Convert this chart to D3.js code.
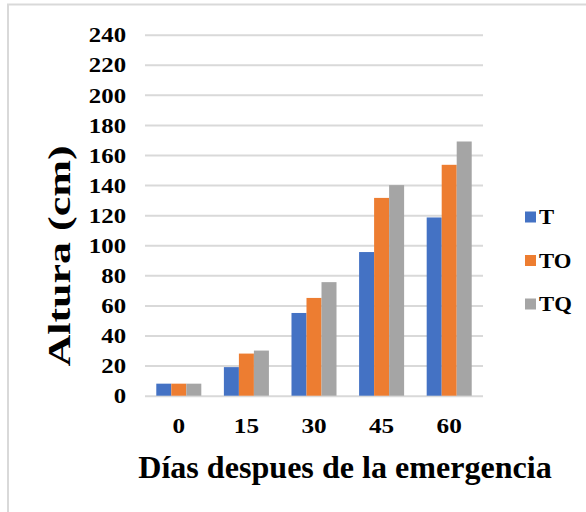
<!DOCTYPE html>
<html>
<head>
<meta charset="utf-8">
<script src="https://cdn.jsdelivr.net/npm/d3@7"></script>
<style>
  html, body { margin: 0; padding: 0; background: #fff; }
  svg { display: block; }
  text { font-family: "Liberation Serif", "Times New Roman", serif; font-weight: bold; fill: #000; }
</style>
</head>
<body>
<svg id="chart" width="586" height="512"></svg>
<script>
const categories = ["0", "15", "30", "45", "60"];
const seriesNames = ["T", "TO", "TQ"];
const seriesT  = [8, 19, 55, 95.5, 118.5];
const seriesTO = [8, 28, 65, 131.5, 153.5];
const seriesTQ = [8, 30, 75.5, 140, 169];
const yTicks = [0, 20, 40, 60, 80, 100, 120, 140, 160, 180, 200, 220, 240];
const colors = ["#4472C4", "#ED7D31", "#A5A5A5"];
const yTitle = "Altura (cm)";
const xTitle = "Días despues de la emergencia";

const series = [seriesT, seriesTO, seriesTQ];
const svg = d3.select("#chart");

function stretch(sel, factor) {
  sel.each(function () {
    const w = this.getComputedTextLength();
    d3.select(this).attr("textLength", w * factor).attr("lengthAdjust", "spacingAndGlyphs");
  });
}

// outer frame
svg.append("rect").attr("x", 8).attr("y", 4.5).attr("width", 600).attr("height", 600)
  .attr("fill", "none").attr("stroke", "#d9d9d9").attr("stroke-width", 2);

const plot = { left: 145, right: 483, top: 34.7, bottom: 395.7 };

const y = d3.scaleLinear().domain([0, 240]).range([plot.bottom, plot.top]);
const x0 = d3.scaleBand().domain(categories).range([plot.left, plot.right])
  .paddingInner(0.334).paddingOuter(0.167);
const x1 = d3.scaleBand().domain(seriesNames).range([0, x0.bandwidth()]);

// gridlines
const yAxis = d3.axisLeft(y).tickValues(yTicks).tickSize(-(plot.right - plot.left)).tickPadding(19);
const gy = svg.append("g").attr("transform", `translate(${plot.left},0)`).call(yAxis);
gy.select(".domain").remove();
gy.selectAll(".tick line").attr("stroke", "#d9d9d9").attr("stroke-width", 2);
gy.selectAll(".tick text").style("font-size", "21px").attr("dy", "0.34em").call(stretch, 1.18);

// bars
const groups = svg.append("g").selectAll("g").data(categories).join("g")
  .attr("transform", d => `translate(${x0(d)},0)`);
groups.selectAll("rect")
  .data((d, i) => seriesNames.map((s, j) => ({ s, v: series[j][i], c: colors[j] })))
  .join("rect")
  .attr("x", d => x1(d.s))
  .attr("width", x1.bandwidth())
  .attr("y", d => y(d.v))
  .attr("height", d => y(0) - y(d.v))
  .attr("fill", d => d.c);

// x axis labels
const xAxis = d3.axisBottom(x0).tickSize(0).tickPadding(22);
const gx = svg.append("g").attr("transform", `translate(0,${plot.bottom})`).call(xAxis);
gx.select(".domain").remove();
gx.selectAll(".tick text").style("font-size", "21px").call(stretch, 1.2);

// axis titles
svg.append("text").attr("x", 345).attr("y", 478).attr("text-anchor", "middle")
  .style("font-size", "31px").text(xTitle).call(stretch, 1.035);
svg.append("text").attr("transform", "translate(70,256) rotate(-90)").attr("text-anchor", "middle")
  .style("font-size", "31px").text(yTitle).call(stretch, 1.42);

// legend
const legend = svg.append("g").selectAll("g").data(seriesNames).join("g")
  .attr("transform", (d, i) => `translate(525,${217 + i * 43.5})`);
legend.append("rect").attr("x", 0).attr("y", -5.5).attr("width", 11).attr("height", 11)
  .attr("fill", (d, i) => colors[i]);
legend.append("text").attr("x", 14).attr("y", 0).attr("dy", "0.35em")
  .style("font-size", "21px").text(d => d).call(stretch, 1.08);
</script>
</body>
</html>
